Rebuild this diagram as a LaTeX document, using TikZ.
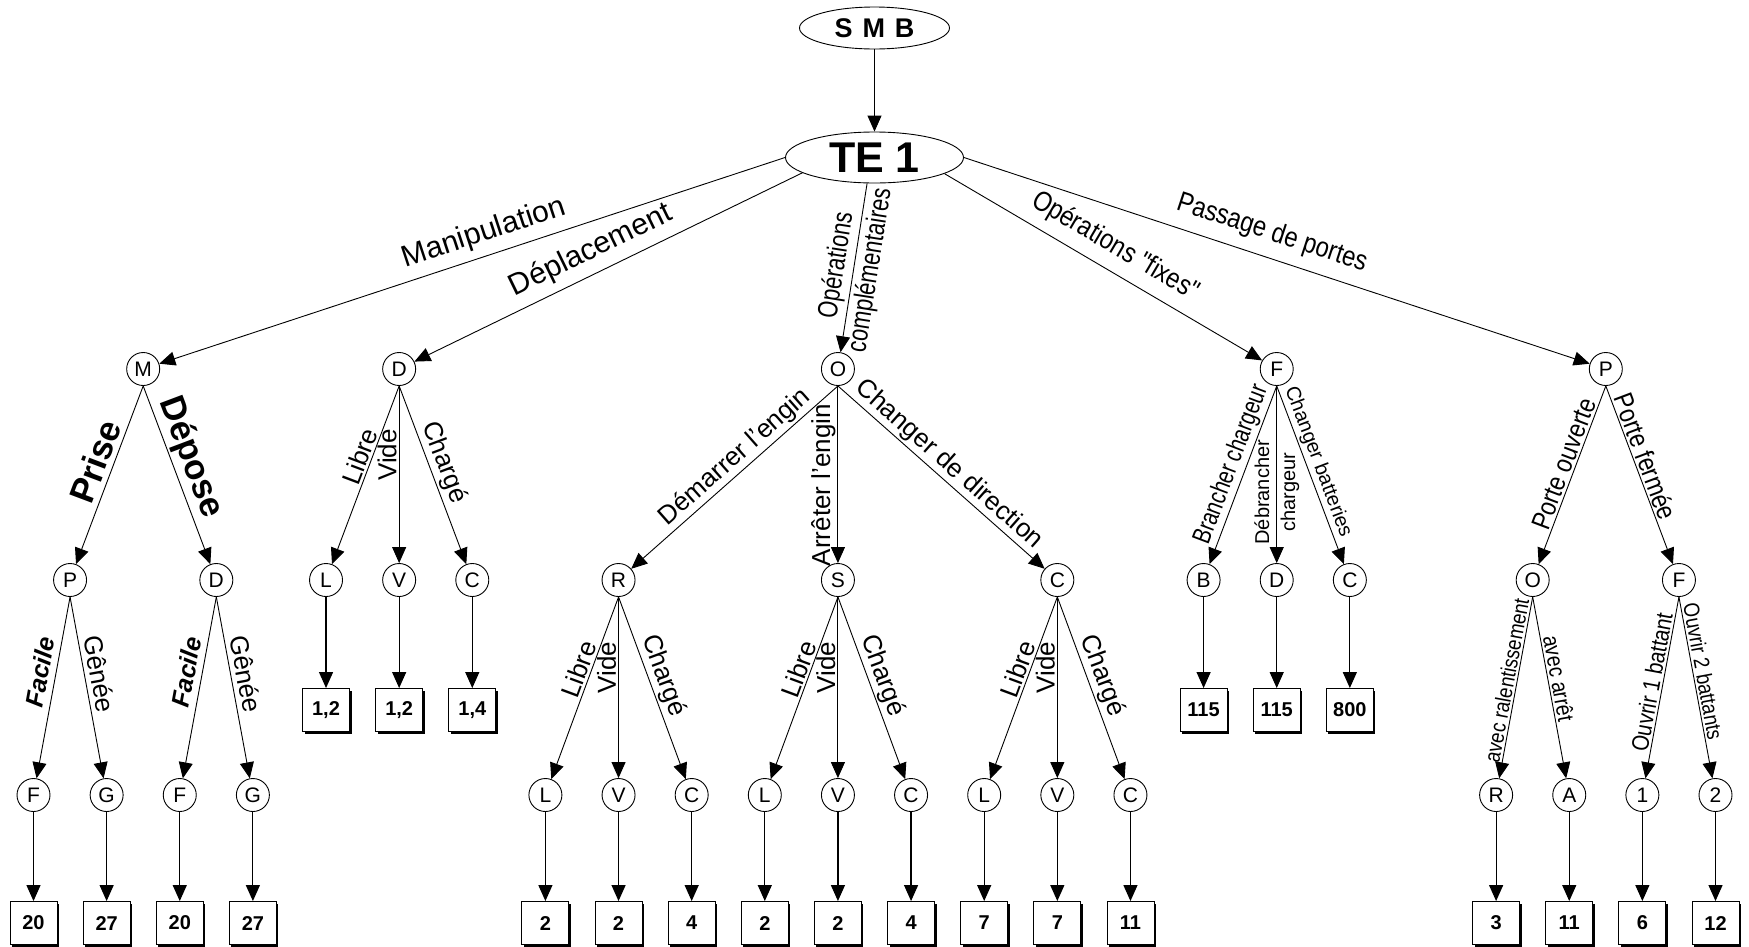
\documentclass[tikz,border=0pt]{standalone}
\usepackage{fontspec}
\setmainfont{Liberation Sans}
\newfontfamily\narrowA{Liberation Sans}[FakeStretch=0.85]
\newfontfamily\narrowB{Liberation Sans}[FakeStretch=0.78]
\usetikzlibrary{arrows.meta,shapes.geometric}

\newcommand\fsz[2]{\fontsize{#1pt}{#2pt}\selectfont}

\tikzset{
  arr/.style={-{Triangle[length=16pt,width=14pt]}, line width=0.9pt},
  oval/.style={ellipse, draw, line width=0.9pt, inner sep=0pt},
  lettre/.style={circle, draw, line width=0.9pt, minimum size=33pt, inner sep=0pt, font=\fsz{21}{24}},
  valeur/.style={rectangle, draw, line width=0.9pt, fill=white, minimum width=47pt, minimum height=43pt,
    inner sep=0pt, font=\bfseries\fsz{20}{24},
    preaction={fill=black, transform canvas={shift={(2pt,-2pt)}}}},
  lab/.style={inner sep=2pt, font=\fsz{26}{30}},
  labtop/.style={inner sep=2pt, font=\fsz{30}{34}},
  labtopn/.style={inner sep=2pt, font=\narrowA\fsz{28}{32}},
  labbig/.style={inner sep=2pt, font=\bfseries\fsz{35}{40}},
  labsmall/.style={inner sep=2pt, font=\fsz{20}{26}},
  labsmalln/.style={inner sep=2pt, font=\narrowB\fsz{26}{30}},
  labtiny/.style={inner sep=2pt, font=\narrowA\fsz{22}{26}},
}

\begin{document}
\begin{tikzpicture}[x=73.13pt, y=-1pt]
\useasboundingbox (-0.45809,0) rectangle (23.45818,946);

% root and first level
\node[oval, minimum width=150pt, minimum height=42pt, font=\bfseries\fsz{27}{30}] (smb) at (11.5,28) {S\hspace{10pt}M\hspace{10pt}B};
\node[oval, minimum width=178pt, minimum height=51pt, font=\bfseries\fsz{43}{48}] (te) at (11.5,157.5) {TE 1};

% second level
\node[lettre] (m) at (1.5,369) {M};
\node[lettre] (d) at (5,369) {D};
\node[lettre] (o) at (11,369) {O};
\node[lettre] (f) at (17,369) {F};
\node[lettre] (p) at (21.5,369) {P};

% third level
\node[lettre] (mp) at (0.5,580) {P};
\node[lettre] (md) at (2.5,580) {D};
\node[lettre] (dl) at (4,580) {L};
\node[lettre] (dv) at (5,580) {V};
\node[lettre] (dc) at (6,580) {C};
\node[lettre] (or) at (8,580) {R};
\node[lettre] (os) at (11,580) {S};
\node[lettre] (oc) at (14,580) {C};
\node[lettre] (fb) at (16,580) {B};
\node[lettre] (fd) at (17,580) {D};
\node[lettre] (fc) at (18,580) {C};
\node[lettre] (po) at (20.5,580) {O};
\node[lettre] (pf) at (22.5,580) {F};

% values under the third level
\node[valeur] (dlb) at (4,710) {1,2};
\node[valeur] (dvb) at (5,710) {1,2};
\node[valeur] (dcb) at (6,710) {1,4};
\node[valeur] (fbb) at (16,710) {115};
\node[valeur] (fdb) at (17,710) {115};
\node[valeur] (fcb) at (18,710) {800};

% fourth level
\node[lettre] (mpf) at (0,795) {F};
\node[lettre] (mpg) at (1,795) {G};
\node[lettre] (mdf) at (2,795) {F};
\node[lettre] (mdg) at (3,795) {G};
\node[lettre] (orl) at (7,795) {L};
\node[lettre] (orv) at (8,795) {V};
\node[lettre] (orc) at (9,795) {C};
\node[lettre] (osl) at (10,795) {L};
\node[lettre] (osv) at (11,795) {V};
\node[lettre] (osc) at (12,795) {C};
\node[lettre] (ocl) at (13,795) {L};
\node[lettre] (ocv) at (14,795) {V};
\node[lettre] (occ) at (15,795) {C};
\node[lettre] (por) at (20,795) {R};
\node[lettre] (poa) at (21,795) {A};
\node[lettre] (pf1) at (22,795) {1};
\node[lettre] (pf2) at (23,795) {2};

% values under the fourth level
\node[valeur] (mpfb) at (0,923) {20};
\node[valeur] (mpgb) at (1,923) {27};
\node[valeur] (mdfb) at (2,923) {20};
\node[valeur] (mdgb) at (3,923) {27};
\node[valeur] (orlb) at (7,923) {2};
\node[valeur] (orvb) at (8,923) {2};
\node[valeur] (orcb) at (9,923) {4};
\node[valeur] (oslb) at (10,923) {2};
\node[valeur] (osvb) at (11,923) {2};
\node[valeur] (oscb) at (12,923) {4};
\node[valeur] (oclb) at (13,923) {7};
\node[valeur] (ocvb) at (14,923) {7};
\node[valeur] (occb) at (15,923) {11};
\node[valeur] (porb) at (20,923) {3};
\node[valeur] (poab) at (21,923) {11};
\node[valeur] (pf1b) at (22,923) {6};
\node[valeur] (pf2b) at (23,923) {12};

% connectors from the root
\draw[arr] (smb) -- (te);
\draw[arr] (te.west) -- (m) node[labtop, pos=.47, sloped, above=6pt] (tmanip) {Manipulation};
\draw[arr] (te.192) -- (d) node[labtop, pos=.52, sloped, above=6pt] (tdepl) {Déplacement};
\draw[arr] (te.254) -- (o) node[inner sep=2pt, font=\narrowB\fsz{28}{34}, align=center, pos=.5, sloped] (topc) {Opérations\\complémentaires};
\draw[arr] (te.347) -- (f) node[labtopn, pos=.50, sloped, above=8pt] (tfix) {Opérations "fixes"};
\draw[arr] (te.east) -- (p) node[labtopn, pos=.48, sloped, above=9pt] (tport) {Passage de portes};

% manipulation branch
\draw[arr] (m.south) -- (mp) node[labbig, pos=.46, sloped, above=3pt] (tprise) {Prise};
\draw[arr] (m.south) -- (md) node[labbig, pos=.44, sloped, above] (tdepose) {Dépose};
\draw[arr] (mp.south) -- (mpf) node[inner sep=2pt, font=\bfseries\itshape\fsz{25}{28}, pos=.43, sloped, above=4pt] (tf1) {Facile};
\draw[arr] (mp.south) -- (mpg) node[lab, pos=.44, sloped, above=3pt] (tg1) {Gênée};
\draw[arr] (md.south) -- (mdf) node[inner sep=2pt, font=\bfseries\itshape\fsz{25}{28}, pos=.43, sloped, above=4pt] (tf2) {Facile};
\draw[arr] (md.south) -- (mdg) node[lab, pos=.44, sloped, above=3pt] (tg2) {Gênée};

% displacement branch
\draw[arr] (d.south) -- (dl) node[lab, pos=.42, sloped, above] (tdl) {Libre};
\draw[arr] (d.south) -- (dv) node[lab, pos=.39, rotate=90, anchor=south] (tdv) {Vide};
\draw[arr] (d.south) -- (dc) node[lab, pos=.46, sloped, above] (tdc) {Chargé};

% complementary operations branch
\draw[arr] (o.south) -- (or) node[lab, pos=.45, sloped, above] (tdem) {Démarrer l'engin};
\draw[arr] (o.south) -- (os) node[lab, pos=.56, rotate=90, anchor=south] (tarr) {Arrêter l'engin};
\draw[arr] (o.south) -- (oc) node[lab, pos=.49, sloped, above] (tchg) {Changer de direction};
\foreach \src in {or, os, oc}{
  \draw[arr] (\src.south) -- (\src l) node[lab, pos=.42, sloped, above] {Libre};
  \draw[arr] (\src.south) -- (\src v) node[lab, pos=.39, rotate=90, anchor=south] {Vide};
  \draw[arr] (\src.south) -- (\src c) node[lab, pos=.46, sloped, above] {Chargé};
}

% fixed operations branch
\draw[arr] (f.south) -- (fb) node[labsmalln, pos=.47, sloped, above] (tbr) {Brancher chargeur};
\draw[arr] (f.south) -- (fd) node[labsmall, align=center, pos=.6, rotate=90] (tdebr) {Débrancher\\chargeur};
\draw[arr] (f.south) -- (fc) node[labsmall, pos=.45, sloped, above] (tbat) {Changer batteries};

% door branch
\draw[arr] (p.south) -- (po) node[lab, font=\narrowA\fsz{27}{30}, pos=.46, sloped, above] (touv) {Porte ouverte};
\draw[arr] (p.south) -- (pf) node[lab, font=\narrowA\fsz{27}{30}, pos=.42, sloped, above] (tfer) {Porte fermée};
\draw[arr] (po.south) -- (por) node[labtiny, pos=.47, sloped, above] (tral) {avec ralentissement};
\draw[arr] (po.south) -- (poa) node[labtiny, font=\narrowA\fsz{23}{26}, pos=.46, sloped, above] (tstop) {avec arrêt};
\draw[arr] (pf.south) -- (pf1) node[labtiny, font=\narrowA\fsz{24}{26}, pos=.48, sloped, above] (tb1) {Ouvrir 1 battant};
\draw[arr] (pf.south) -- (pf2) node[labtiny, pos=.42, sloped, above] (tb2) {Ouvrir 2 battants};

% leaves to values
\foreach \n in {dl,dv,dc,fb,fd,fc,mpf,mpg,mdf,mdg,orl,orv,orc,osl,osv,osc,ocl,ocv,occ,por,poa,pf1,pf2}{
  \draw[arr, line width=1.2pt] (\n) -- (\n b);
}
\end{tikzpicture}
\end{document}
